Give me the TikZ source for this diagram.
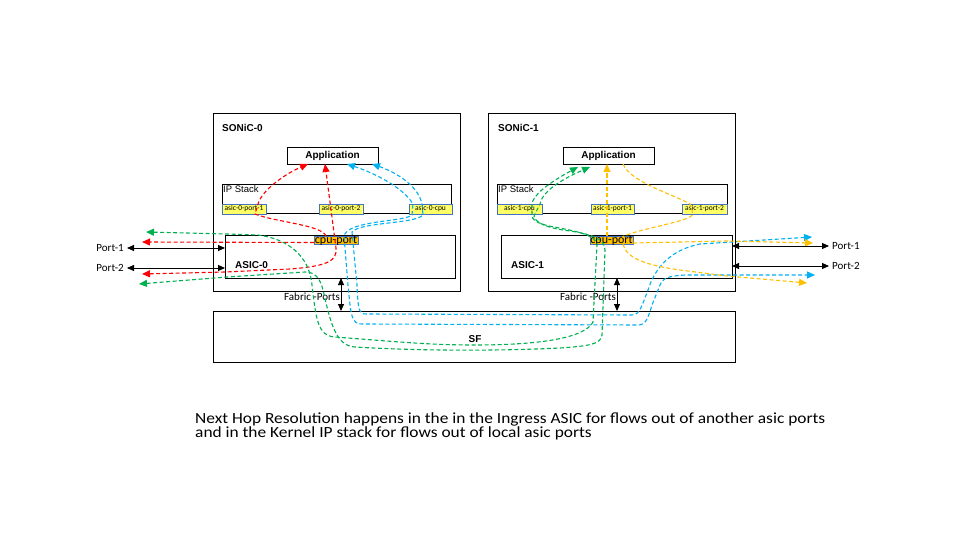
\documentclass[tikz,border=0pt]{standalone}
\usepackage{fontspec}
\setmainfont{Carlito}
\newfontfamily\lsans{Liberation Sans}
\usetikzlibrary{arrows.meta}
\definecolor{cred}{HTML}{FF0000}
\definecolor{cblue}{HTML}{00B0F0}
\definecolor{cgreen}{HTML}{00B050}
\definecolor{cyel}{HTML}{FFC000}
\definecolor{lblfill}{HTML}{FFFF66}
\definecolor{lblline}{HTML}{4472C4}
\begin{document}
\begin{tikzpicture}[x=1pt,y=-1pt,
  box/.style={draw=black,line width=0.9pt,fill=white,anchor=north west,inner sep=0pt,outer sep=0pt},
  lbl/.style={draw=lblline,line width=0.9pt,fill=lblfill,anchor=north west,inner sep=0pt,outer sep=0pt},
  cpl/.style={draw=lblline,line width=0.9pt,fill=cyel,anchor=north west,inner sep=0pt,outer sep=0pt},
  ttl/.style={font=\lsans\bfseries\fontsize{10}{12}\selectfont,inner sep=0pt,anchor=base west},
  sub/.style={font=\lsans\fontsize{9.5}{11}\selectfont,inner sep=0pt,anchor=base west},
  tiny/.style={font=\fontsize{7.5}{8}\selectfont,inner sep=0pt},
  cput/.style={font=\fontsize{12}{13}\selectfont,inner sep=0pt,anchor=base},
  prt/.style={font=\fontsize{11}{12}\selectfont,inner sep=0pt},
  flow/.style={line width=1.1pt,dash pattern=on 4pt off 2.5pt},
  ctip/.tip={Triangle[length=8pt,width=7pt]},
  btip/.tip={Triangle[length=7pt,width=6pt]},
  blk/.style={line width=0.9pt,btip-btip}]
\useasboundingbox (0,0) rectangle (960,540);
\fill[white] (0,0) rectangle (960,540);

% main boxes
\node[box,minimum width=247pt,minimum height=178pt] (son0) at (213,113) {};
\node[box,minimum width=247pt,minimum height=178pt] (son1) at (488,113) {};
\node[box,minimum width=522pt,minimum height=51pt] (sf) at (213,311) {};
\node[box,minimum width=91pt,minimum height=17pt] (app0) at (287,147) {};
\node[box,minimum width=91pt,minimum height=17pt] (app1) at (563,147) {};
\node[box,minimum width=229pt,minimum height=29pt] (ip0) at (222,184) {};
\node[box,minimum width=230pt,minimum height=29pt] (ip1) at (497,184) {};
\node[box,minimum width=230pt,minimum height=43pt] (asic0) at (225,235) {};
\node[box,minimum width=231pt,minimum height=43pt] (asic1) at (501,235) {};

% small labels
\node[lbl,minimum width=44pt,minimum height=10pt] (p01) at (222,204) {};
\node[lbl,minimum width=44pt,minimum height=10pt] (p02) at (319,204) {};
\node[lbl,minimum width=43pt,minimum height=10pt] (c0) at (409,204) {};
\node[lbl,minimum width=45pt,minimum height=10pt] (c1) at (497,204) {};
\node[lbl,minimum width=43pt,minimum height=10pt] (p11) at (591,204) {};
\node[lbl,minimum width=45pt,minimum height=10pt] (p12) at (682,204) {};
\node[cpl,minimum width=44pt,minimum height=8pt] (cp0) at (314,236) {};
\node[cpl,minimum width=43pt,minimum height=8pt] (cp1) at (590,236) {};

\node[tiny] (tp01) at (p01.center) {asic-0-port-1};
\node[tiny] (tp02) at (p02.center) {asic-0-port-2};
\node[tiny] (tc0) at (c0.center) {asic-0-cpu};
\node[tiny] (tc1) at (c1.center) {asic-1-cpu};
\node[tiny] (tp11) at (p11.center) {asic-1-port-1};
\node[tiny] (tp12) at (p12.center) {asic-1-port-2};
\node[cput] (tcp0) at (336,243.5) {cpu-port};
\node[cput] (tcp1) at (611.5,243.5) {cpu-port};

% titles
\node[ttl] (tson0) at (222,132) {SONiC-0};
\node[ttl] (tson1) at (498,132) {SONiC-1};
\node[ttl,anchor=center] (tapp0) at (332.5,155.5) {Application};
\node[ttl,anchor=center] (tapp1) at (608.5,155.5) {Application};
\node[sub] (tip0) at (223,193) {IP Stack};
\node[sub] (tip1) at (498,193) {IP Stack};
\node[ttl] (tasic0) at (235,268) {ASIC-0};
\node[ttl] (tasic1) at (511,268) {ASIC-1};
\node[ttl,anchor=base] (tsf) at (475,342) {SF};
\node[prt,anchor=base west] (fab0) at (284,300) {Fabric -Ports};
\node[prt,anchor=base west] (fab1) at (560,300) {Fabric -Ports};

% port labels
\node[prt,anchor=east] (lp1) at (124,248) {Port-1};
\node[prt,anchor=east] (lp2) at (124,268) {Port-2};
\node[prt,anchor=west] (rp1) at (832,246) {Port-1};
\node[prt,anchor=west] (rp2) at (832,266) {Port-2};

% red flows
\draw[flow,cred,-ctip] (cp0.west |- 0,242.5) -- (142,242);
\draw[flow,cred,-ctip] (326,236) .. controls (322,225) and (275,222) .. (255,214) -- (258,204) .. controls (262,190) and (285,174) .. (308,164);
\draw[flow,cred,ctip-ctip] (142,274) -- (225,272) -- (290,269) .. controls (330,266) and (337,260) .. (336,248) -- (325,164);

% blue flows
\draw[flow,cblue,ctip-ctip] (347,164) .. controls (380,175) and (405,190) .. (413,204) -- (412,215) .. controls (405,222) and (348,220) .. (344,236) -- (348,285) .. controls (351,318) and (352,324) .. (362,324) -- (638,325) .. controls (646,325) and (648,318) .. (652,305) -- (660,285) .. controls (663,278) and (668,276) .. (685,275) -- (815,275);
\draw[flow,cblue,ctip-ctip] (372,164) .. controls (395,172) and (418,185) .. (422,204) -- (423,215) .. controls (415,224) and (360,222) .. (352,232) -- (357,285) .. controls (358,310) and (359,314) .. (366,314) -- (632,315) .. controls (640,315) and (642,305) .. (648,290) .. controls (655,268) and (670,250) .. (700,244) -- (812,237);

% green flows
\draw[flow,cgreen,ctip-ctip] (146,232) -- (227,234) -- (258,235) .. controls (295,240) and (310,262) .. (312,285) .. controls (316,320) and (318,336) .. (335,337) .. controls (400,342) and (430,345) .. (475,345) .. controls (540,345) and (585,338) .. (593,322) -- (597,245) .. controls (596,232) and (560,229) .. (545,225) .. controls (536,222) and (532,220) .. (532,215) -- (532,204) .. controls (533,196) and (545,185) .. (578,167);
\draw[flow,cgreen,ctip-ctip] (139,284) -- (227,277) -- (305,272) .. controls (315,272) and (320,278) .. (323,290) .. controls (330,320) and (335,346) .. (355,347) .. controls (420,351) and (500,351) .. (560,348) .. controls (590,346) and (601,344) .. (602,335) -- (605,250) .. controls (605,238) and (590,234) .. (570,231) .. controls (545,228) and (535,222) .. (534,216) -- (540,204) .. controls (542,192) and (560,180) .. (590,167);

% yellow flows
\draw[flow,cyel,-ctip] (607,236) -- (607,164);
\draw[flow,cyel,-ctip] (cp1.east |- 0,243) -- (727,241) -- (813,243);
\draw[flow,cyel,-ctip] (623,244) .. controls (626,258) and (645,265) .. (680,270) -- (727,276) -- (807,283);
\draw[flow,cyel] (623,164) .. controls (630,182) and (675,195) .. (690,204) -- (693,214) .. controls (690,222) and (640,228) .. (622,237);

% black port arrows
\draw[blk] (127,248) -- (asic0.west |- 0,248);
\draw[blk] (127,268) -- (asic0.west |- 0,268);
\draw[blk] (asic1.east |- 0,246) -- (829,246);
\draw[blk] (asic1.east |- 0,266) -- (829,266);
\draw[blk] (asic0.south -| 341,0) -- (sf.north -| 341,0);
\draw[blk] (asic1.south -| 617,0) -- (sf.north -| 617,0);

% note
\node[anchor=base west,inner sep=0pt,align=left,font=\fontsize{15.5}{12}\selectfont] (note) at (195,437.5) {\scalebox{1.12}[1]{Next Hop Resolution happens in the in the Ingress ASIC for flows out of another asic ports}\\\scalebox{1.12}[1]{and in the Kernel IP stack for flows out of local asic ports}};
\end{tikzpicture}
\end{document}
